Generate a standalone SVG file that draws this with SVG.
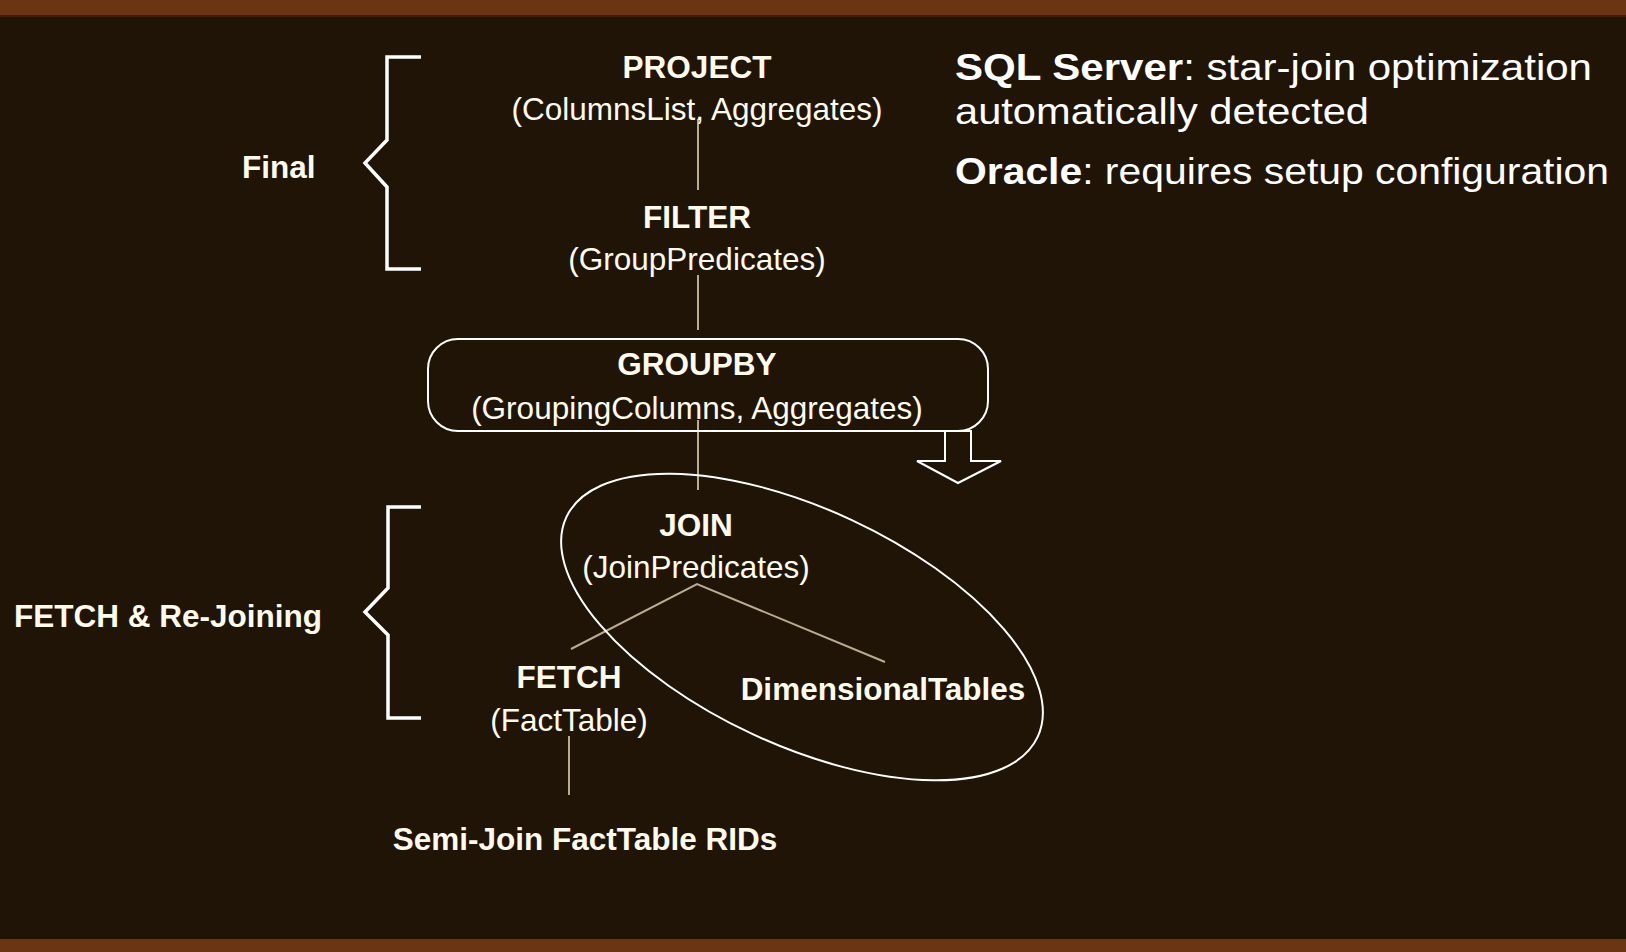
<svg xmlns="http://www.w3.org/2000/svg" width="1626" height="952" viewBox="0 0 1626 952">
<style>
.bg{fill:#1f1405}
.bar{fill:#6b3413}
.t{font-family:"Liberation Sans",Arial,sans-serif;font-size:31.5px;fill:#fffbec;text-anchor:middle}
.b{font-weight:bold}
.lbl{font-family:"Liberation Sans",Arial,sans-serif;font-size:31.5px;fill:#fffbec;font-weight:bold}
.brace{fill:none;stroke:#ffffff;stroke-width:3.5}
.wire{stroke:#b9ad90;stroke-width:2;fill:none}
.shape{fill:none;stroke:#ffffff;stroke-width:2}
.note{font-family:"Liberation Sans",Arial,sans-serif;font-size:36px;fill:#ffffff}
</style>
<rect class="bg" x="0" y="0" width="1626" height="952"/>
<rect class="bar" x="0" y="0" width="1626" height="15"/>
<rect x="0" y="15" width="1626" height="2" fill="#3e1d0a"/>
<rect class="bar" x="0" y="939" width="1626" height="13"/>

<g id="connectors">
  <line class="wire" x1="698" y1="119" x2="698" y2="190"/>
  <line class="wire" x1="698" y1="275" x2="698" y2="330"/>
  <line class="wire" x1="698" y1="420" x2="698" y2="490"/>
  <polyline class="wire" points="571,649 697,584 885,662"/>
  <line class="wire" x1="569" y1="736" x2="569" y2="795"/>
</g>

<g id="brace-final">
  <polyline class="brace" points="421,57 387,57 387,140 365,163 387,187 387,269 421,269"/>
</g>
<g id="label-final"><text class="lbl" x="242" y="178">Final</text></g>

<g id="brace-fetch">
  <polyline class="brace" points="421,507 388,507 388,588 365,612 388,635 388,718 421,718"/>
</g>
<g id="label-fetch"><text class="lbl" x="14" y="627">FETCH &amp; Re-Joining</text></g>

<g id="project">
  <text class="t b" x="697" y="78">PROJECT</text>
  <text class="t" x="697" y="120">(ColumnsList, Aggregates)</text>
</g>
<g id="filter">
  <text class="t b" x="697" y="228">FILTER</text>
  <text class="t" x="697" y="270">(GroupPredicates)</text>
</g>
<g id="groupby">
  <rect class="shape" x="428" y="339" width="560" height="92" rx="30" ry="30"/>
  <text class="t b" x="697" y="375">GROUPBY</text>
  <text class="t" x="697" y="419">(GroupingColumns, Aggregates)</text>
</g>
<g id="pushdown-arrow">
  <polygon class="shape" points="945,431 971,431 971,461 1001,461 958,483 917,461 945,461"/>
</g>
<g id="star-ellipse">
  <ellipse class="shape" cx="802" cy="627" rx="260" ry="118" transform="rotate(25 802 627)"/>
</g>
<g id="join">
  <text class="t b" x="696" y="536">JOIN</text>
  <text class="t" x="696" y="578">(JoinPredicates)</text>
</g>
<g id="fetch">
  <text class="t b" x="569" y="688">FETCH</text>
  <text class="t" x="569" y="731">(FactTable)</text>
</g>
<g id="dimtables">
  <text class="t b" x="883" y="700">DimensionalTables</text>
</g>
<g id="semijoin">
  <text class="t b" x="585" y="850">Semi-Join FactTable RIDs</text>
</g>

<g id="note">
  <text class="note" x="955" y="80" textLength="637" lengthAdjust="spacingAndGlyphs"><tspan font-weight="bold">SQL Server</tspan>: star-join optimization</text>
  <text class="note" x="955" y="124" textLength="414" lengthAdjust="spacingAndGlyphs">automatically detected</text>
  <text class="note" x="955" y="184" textLength="654" lengthAdjust="spacingAndGlyphs"><tspan font-weight="bold">Oracle</tspan>: requires setup configuration</text>
</g>
</svg>
